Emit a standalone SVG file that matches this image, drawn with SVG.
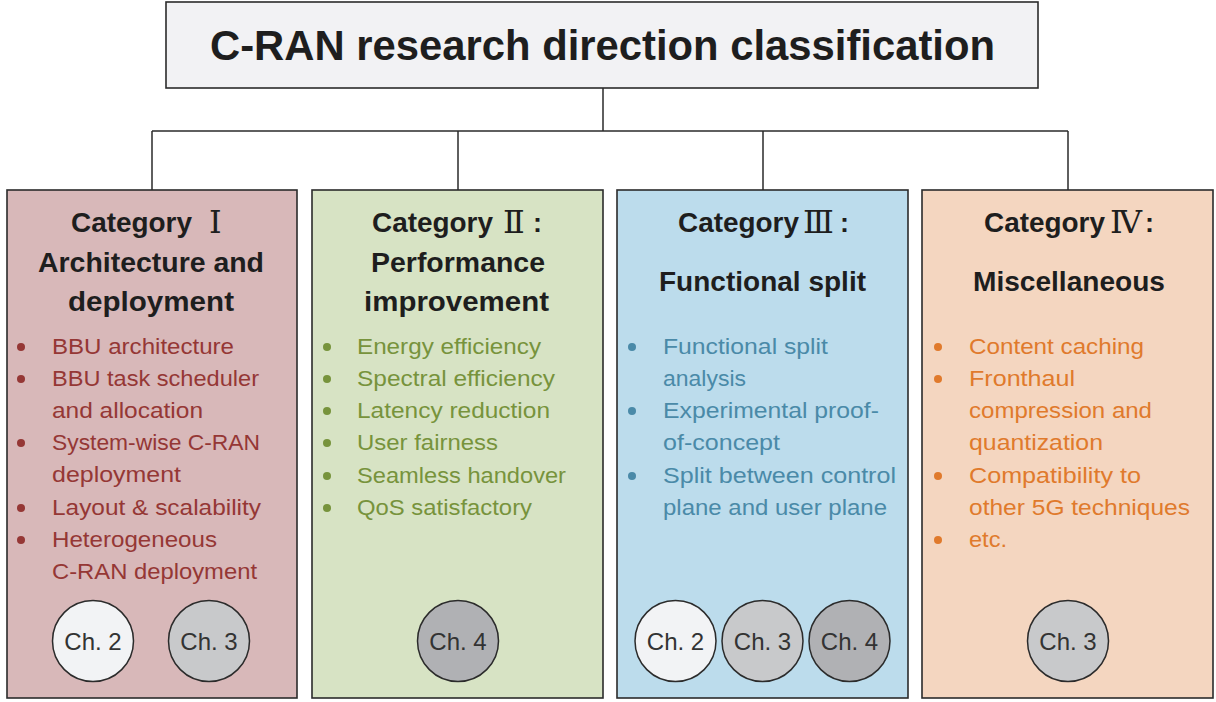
<svg xmlns="http://www.w3.org/2000/svg" width="1216" height="702" viewBox="0 0 1216 702">
<style>
.box{stroke:#2b2b2b;stroke-width:1.6}
.conn{stroke:#2b2b2b;stroke-width:1.5;fill:none}
.title{font-family:"Liberation Sans",Arial,sans-serif;font-weight:bold;font-size:42px;fill:#1e1e1e}
.head{font-family:"Liberation Sans",Arial,sans-serif;font-weight:bold;font-size:27px;fill:#1e1e1e}
.rom{font-family:"Liberation Serif","DejaVu Serif","Noto Sans CJK SC",serif;font-weight:normal;font-size:32px}
.item{font-family:"Liberation Sans",Arial,sans-serif;font-size:22px}
.c1{fill:#953735}.c2{fill:#77933c}.c3{fill:#4a8aa8}.c4{fill:#e07a2c}
.ch{stroke:#2b2b2b;stroke-width:1.5}
.chl{font-family:"Liberation Sans",Arial,sans-serif;font-size:24px;fill:#333;text-anchor:middle}
.g2{fill:#f2f3f5}.g3{fill:#c8c9cb}.g4{fill:#b0b1b4}
</style>
<rect width="1216" height="702" fill="#ffffff"/>
<g id="connectors">
<path class="conn" d="M603 88V131M152 131H1068M152 131V190M458 131V190M763 131V190M1068 131V190"/>
</g>
<g id="title">
<rect class="box" x="166" y="2" width="872" height="86" fill="#f2f2f4"/>
<text class="title" x="210" y="60" textLength="785" lengthAdjust="spacingAndGlyphs">C-RAN research direction classification</text>
</g>
<g id="cat1">
<rect class="box" x="7" y="190" width="290" height="508" fill="#d8b8b9"/>
<text class="head" x="71" y="232" textLength="121" lengthAdjust="spacingAndGlyphs">Category</text>
<text class="head rom" x="209" y="233">Ⅰ</text>
<text class="head" x="38" y="272" textLength="226" lengthAdjust="spacingAndGlyphs">Architecture and</text>
<text class="head" x="68" y="311" textLength="166" lengthAdjust="spacingAndGlyphs">deployment</text>
<g class="c1">
<circle cx="21" cy="347" r="4"/><circle cx="21" cy="379" r="4"/><circle cx="21" cy="443" r="4"/><circle cx="21" cy="508" r="4"/><circle cx="21" cy="540" r="4"/>
<text class="item" x="52" y="354" textLength="182" lengthAdjust="spacingAndGlyphs">BBU architecture</text>
<text class="item" x="52" y="386" textLength="207" lengthAdjust="spacingAndGlyphs">BBU task scheduler</text>
<text class="item" x="52" y="418" textLength="151" lengthAdjust="spacingAndGlyphs">and allocation</text>
<text class="item" x="52" y="450" textLength="208" lengthAdjust="spacingAndGlyphs">System-wise C-RAN</text>
<text class="item" x="52" y="482" textLength="129" lengthAdjust="spacingAndGlyphs">deployment</text>
<text class="item" x="52" y="515" textLength="209" lengthAdjust="spacingAndGlyphs">Layout &amp; scalability</text>
<text class="item" x="52" y="547" textLength="165" lengthAdjust="spacingAndGlyphs">Heterogeneous</text>
<text class="item" x="52" y="579" textLength="205" lengthAdjust="spacingAndGlyphs">C-RAN deployment</text>
</g>
<circle class="ch g2" cx="93" cy="641" r="40.5"/><text class="chl" x="93" y="650">Ch. 2</text>
<circle class="ch g3" cx="209" cy="641" r="40.5"/><text class="chl" x="209" y="650">Ch. 3</text>
</g>
<g id="cat2">
<rect class="box" x="312" y="190" width="291" height="508" fill="#d7e3c4"/>
<text class="head" x="372" y="232" textLength="121" lengthAdjust="spacingAndGlyphs">Category</text>
<text class="head rom" x="503" y="233">Ⅱ</text>
<text class="head" x="533" y="232">:</text>
<text class="head" x="371" y="272" textLength="174" lengthAdjust="spacingAndGlyphs">Performance</text>
<text class="head" x="364" y="311" textLength="185" lengthAdjust="spacingAndGlyphs">improvement</text>
<g class="c2">
<circle cx="327" cy="347" r="4"/><circle cx="327" cy="379" r="4"/><circle cx="327" cy="411" r="4"/><circle cx="327" cy="443" r="4"/><circle cx="327" cy="476" r="4"/><circle cx="327" cy="508" r="4"/>
<text class="item" x="357" y="354" textLength="184" lengthAdjust="spacingAndGlyphs">Energy efficiency</text>
<text class="item" x="357" y="386" textLength="198" lengthAdjust="spacingAndGlyphs">Spectral efficiency</text>
<text class="item" x="357" y="418" textLength="193" lengthAdjust="spacingAndGlyphs">Latency reduction</text>
<text class="item" x="357" y="450" textLength="141" lengthAdjust="spacingAndGlyphs">User fairness</text>
<text class="item" x="357" y="483" textLength="209" lengthAdjust="spacingAndGlyphs">Seamless handover</text>
<text class="item" x="357" y="515" textLength="175" lengthAdjust="spacingAndGlyphs">QoS satisfactory</text>
</g>
<circle class="ch g4" cx="458" cy="641" r="40.5"/><text class="chl" x="458" y="650">Ch. 4</text>
</g>
<g id="cat3">
<rect class="box" x="617" y="190" width="291" height="508" fill="#bcdcec"/>
<text class="head" x="678" y="232" textLength="121" lengthAdjust="spacingAndGlyphs">Category</text>
<text class="head rom" x="803" y="233">Ⅲ</text>
<text class="head" x="840" y="232">:</text>
<text class="head" x="659" y="291" textLength="207" lengthAdjust="spacingAndGlyphs">Functional split</text>
<g class="c3">
<circle cx="632" cy="347" r="4"/><circle cx="632" cy="411" r="4"/><circle cx="632" cy="476" r="4"/>
<text class="item" x="663" y="354" textLength="165" lengthAdjust="spacingAndGlyphs">Functional split</text>
<text class="item" x="663" y="386" textLength="83" lengthAdjust="spacingAndGlyphs">analysis</text>
<text class="item" x="663" y="418" textLength="216" lengthAdjust="spacingAndGlyphs">Experimental proof-</text>
<text class="item" x="663" y="450" textLength="117" lengthAdjust="spacingAndGlyphs">of-concept</text>
<text class="item" x="663" y="483" textLength="233" lengthAdjust="spacingAndGlyphs">Split between control</text>
<text class="item" x="663" y="515" textLength="224" lengthAdjust="spacingAndGlyphs">plane and user plane</text>
</g>
<circle class="ch g2" cx="675.5" cy="641" r="40.5"/><text class="chl" x="675.5" y="650">Ch. 2</text>
<circle class="ch g3" cx="762.5" cy="641" r="40.5"/><text class="chl" x="762.5" y="650">Ch. 3</text>
<circle class="ch g4" cx="849.5" cy="641" r="40.5"/><text class="chl" x="849.5" y="650">Ch. 4</text>
</g>
<g id="cat4">
<rect class="box" x="922" y="190" width="291" height="508" fill="#f4d6c0"/>
<text class="head" x="984" y="232" textLength="121" lengthAdjust="spacingAndGlyphs">Category</text>
<text class="head rom" x="1110" y="233">Ⅳ</text>
<text class="head" x="1145" y="232">:</text>
<text class="head" x="973" y="291" textLength="192" lengthAdjust="spacingAndGlyphs">Miscellaneous</text>
<g class="c4">
<circle cx="938" cy="347" r="4"/><circle cx="938" cy="379" r="4"/><circle cx="938" cy="476" r="4"/><circle cx="938" cy="540" r="4"/>
<text class="item" x="969" y="354" textLength="175" lengthAdjust="spacingAndGlyphs">Content caching</text>
<text class="item" x="969" y="386" textLength="106" lengthAdjust="spacingAndGlyphs">Fronthaul</text>
<text class="item" x="969" y="418" textLength="183" lengthAdjust="spacingAndGlyphs">compression and</text>
<text class="item" x="969" y="450" textLength="134" lengthAdjust="spacingAndGlyphs">quantization</text>
<text class="item" x="969" y="483" textLength="172" lengthAdjust="spacingAndGlyphs">Compatibility to</text>
<text class="item" x="969" y="515" textLength="221" lengthAdjust="spacingAndGlyphs">other 5G techniques</text>
<text class="item" x="969" y="547" textLength="38" lengthAdjust="spacingAndGlyphs">etc.</text>
</g>
<circle class="ch g3" cx="1068" cy="641" r="40.5"/><text class="chl" x="1068" y="650">Ch. 3</text>
</g>
</svg>
